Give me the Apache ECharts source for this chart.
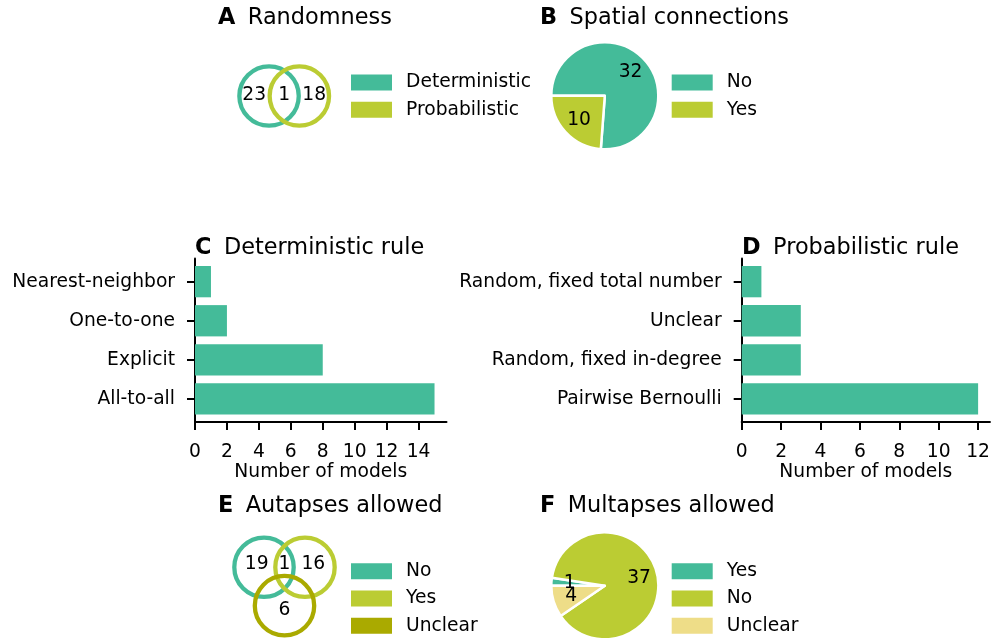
<!DOCTYPE html>
<html>
<head>
<meta charset="utf-8">
<script src="https://cdn.jsdelivr.net/npm/echarts@6/dist/echarts.min.js"></script>
<style>
html,body{margin:0;padding:0;background:#fff;}
#chart{width:993px;height:638px;}
</style>
</head>
<body>
<div id="chart"></div>
<script>
// ---------------- data ----------------
const randomnessSets = ['Deterministic', 'Probabilistic'];
const randomnessCounts = [23, 1, 18];            // only Det., both, only Prob.
const spatialNames = ['No', 'Yes'];
const spatialCounts = [32, 10];
const detRules = ['All-to-all', 'Explicit', 'One-to-one', 'Nearest-neighbor'];   // bottom -> top
const detCounts = [15, 8, 2, 1];
const probRules = ['Pairwise Bernoulli', 'Random, fixed in-degree', 'Unclear', 'Random, fixed total number'];
const probCounts = [12, 3, 3, 1];
const detTicks = [0, 2, 4, 6, 8, 10, 12, 14];
const probTicks = [0, 2, 4, 6, 8, 10, 12];
const autapseSets = ['No', 'Yes', 'Unclear'];
const autapseCounts = [19, 1, 16, 6];            // only No, No&Yes, only Yes, only Unclear
const multapseNames = ['Yes', 'No', 'Unclear'];
const multapseCounts = [1, 37, 4];

// ---------------- styling / layout ----------------
const TEAL = '#44BB99', PEAR = '#BBCC33', OLIVE = '#AAAA00', LYEL = '#EEDD88';
const FONT = 'DejaVu Sans';
const FS = 18.7, TFS = 22.4;
// Venn layouts in circle-radius units (unweighted diagrams)
const venn2Layout = { circles: [[-0.51, 0], [0.51, 0]], labels: [[-1.01, 0.03], [0, 0.03], [1.01, 0.03]] };
const venn3Layout = { circles: [[-0.69, 0.44], [0.69, 0.44], [0, -0.885]], labels: [[-0.936, 0.53], [0, 0.53], [0.97, 0.53], [0, -1.04]] };
const R_PX = 29.7;
const PIE_R = 53.5;

const chart = echarts.init(document.getElementById('chart'), null, { renderer: 'canvas' });

function mkTitle(letter, text, left, top) {
  return {
    text: '{b|' + letter + '}{n|' + text + '}',
    left: left, top: top, padding: 0,
    textStyle: {
      rich: {
        b: { fontFamily: FONT, fontSize: TFS, fontWeight: 'bold', color: '#000', padding: [0, 12.5, 0, 0], lineHeight: TFS },
        n: { fontFamily: FONT, fontSize: TFS, fontWeight: 'normal', color: '#000', lineHeight: TFS }
      }
    }
  };
}
function mkLegend(names, colors, left, top) {
  return {
    orient: 'vertical', left: left, top: top, height: 150, padding: 0,
    itemWidth: 41, itemHeight: 16, itemGap: 8.3, icon: 'rect',
    selectedMode: false,
    textStyle: { fontFamily: FONT, fontSize: FS, color: '#000', lineHeight: 16, padding: [0, 0, 0, 9] },
    data: names.map((n, i) => ({ name: n, itemStyle: { color: colors[i], borderWidth: 0, opacity: 1 } }))
  };
}
function vennGrid(cx, cy) {
  return { left: cx - 2 * R_PX, top: cy - 2 * R_PX, width: 4 * R_PX, height: 4 * R_PX, containLabel: false };
}
function hiddenAxis(gi) {
  return { type: 'value', min: -2, max: 2, show: false, gridIndex: gi };
}
function barGrid(left, width) {
  return { left: left, top: 258.6, width: width, height: 163.4, containLabel: false };
}
function valueXAxis(gi, max, ticks) {
  return {
    type: 'value', gridIndex: gi, min: 0, max: max,
    name: 'Number of models', nameLocation: 'middle', nameGap: 32.5,
    nameTextStyle: { fontFamily: FONT, fontSize: FS, color: '#000' },
    axisLine: { show: true, onZero: false, lineStyle: { color: '#000', width: 2 } },
    axisTick: { show: true, length: 8, lineStyle: { color: '#000', width: 2 }, customValues: ticks },
    axisLabel: { fontFamily: FONT, fontSize: FS, color: '#000', margin: 21, customValues: ticks },
    splitLine: { show: false }
  };
}
function catYAxis(gi, cats) {
  const idx = cats.map((c, i) => i);
  return {
    type: 'value', gridIndex: gi, min: -0.59, max: cats.length - 1 + 0.59,
    axisLine: { show: true, onZero: false, lineStyle: { color: '#000', width: 2 } },
    axisTick: { show: true, length: 8, lineStyle: { color: '#000', width: 2 }, customValues: idx },
    axisLabel: { fontFamily: FONT, fontSize: FS, color: '#000', margin: 20, customValues: idx,
      formatter: v => cats[Math.round(v)] },
    splitLine: { show: false }
  };
}
function barRender(params, api) {
  const v = api.value(0), i = api.value(1);
  const a = api.coord([0, i + 0.4]);
  const b = api.coord([v, i - 0.4]);
  return { type: 'rect', shape: { x: a[0], y: a[1], width: b[0] - a[0], height: b[1] - a[1] }, style: { fill: TEAL } };
}
function vennCircles(gi, names, colors, layout) {
  return names.map((n, i) => ({
    type: 'scatter', name: n, xAxisIndex: gi, yAxisIndex: gi, silent: true, z: 2 + i,
    symbol: 'circle', symbolSize: 2 * R_PX,
    itemStyle: { color: 'rgba(0,0,0,0)', borderColor: colors[i], borderWidth: 4.3, opacity: 1 },
    data: [layout.circles[i]]
  }));
}
function vennLabels(gi, counts, layout) {
  return {
    type: 'custom', name: 'venn-labels-' + gi, xAxisIndex: gi, yAxisIndex: gi, silent: true, z: 10,
    encode: { x: 0, y: 1 },
    data: counts.map((c, i) => [layout.labels[i][0], layout.labels[i][1], c]),
    renderItem: (params, api) => {
      const p = api.coord([api.value(0), api.value(1)]);
      return { type: 'text', x: p[0], y: p[1], z2: 10,
        style: { text: String(api.value(2)), fill: '#000', fontSize: FS, fontFamily: FONT,
          align: 'center', verticalAlign: 'middle' } };
    }
  };
}
function pieSeries(name, names, counts, colors, center) {
  return {
    type: 'pie', name: name, center: center, radius: [0, PIE_R], startAngle: 180, clockwise: true,
    silent: true, label: { show: false }, labelLine: { show: false },
    itemStyle: { borderColor: '#fff', borderWidth: 2.5 },
    emphasis: { disabled: true },
    data: names.map((n, i) => ({ name: n, value: counts[i], itemStyle: { color: colors[i] } }))
  };
}
function pieLabelSeries(name, names, counts, center) {
  // labels at 0.6 of the pie radius: inside-label of a transparent pie 1.2x larger
  return {
    type: 'pie', name: name, center: center, radius: [0, PIE_R * 1.2], startAngle: 180, clockwise: true,
    silent: true, z: 5, avoidLabelOverlap: false, minShowLabelAngle: 0,
    itemStyle: { color: 'rgba(0,0,0,0)', borderWidth: 0 },
    label: { show: true, position: 'inside', fontFamily: FONT, fontSize: FS, color: '#000',
      textBorderWidth: 0, formatter: p => String(p.value) },
    labelLine: { show: false },
    labelLayout: { hideOverlap: false },
    emphasis: { disabled: true },
    data: names.map((n, i) => ({ name: n, value: counts[i] }))
  };
}

const option = {
  backgroundColor: '#fff',
  animation: false,
  title: [
    mkTitle('A', 'Randomness', 218, 6.7),
    mkTitle('B', 'Spatial connections', 540, 6.7),
    mkTitle('C', 'Deterministic rule', 195, 236.7),
    mkTitle('D', 'Probabilistic rule', 742, 236.7),
    mkTitle('E', 'Autapses allowed', 218, 495),
    mkTitle('F', 'Multapses allowed', 540, 495)
  ],
  legend: [
    mkLegend(randomnessSets, [TEAL, PEAR], 351, 73),
    mkLegend(spatialNames, [TEAL, PEAR], 671.7, 73),
    mkLegend(autapseSets, [TEAL, PEAR, OLIVE], 351, 561.7),
    mkLegend(multapseNames, [TEAL, PEAR, LYEL], 671.7, 561.7)
  ],
  grid: [
    vennGrid(284.2, 96),
    barGrid(195, 251.5),
    barGrid(741.7, 250.1),
    vennGrid(284.5, 581.4)
  ],
  xAxis: [
    hiddenAxis(0),
    valueXAxis(1, 15.75, detTicks),
    valueXAxis(2, 12.6, probTicks),
    hiddenAxis(3)
  ],
  yAxis: [
    hiddenAxis(0),
    catYAxis(1, detRules),
    catYAxis(2, probRules),
    hiddenAxis(3)
  ],
  series: [
    ...vennCircles(0, randomnessSets, [TEAL, PEAR], venn2Layout),
    vennLabels(0, randomnessCounts, venn2Layout),
    pieSeries('spatial', spatialNames, spatialCounts, [TEAL, PEAR], [604.8, 95.8]),
    pieLabelSeries('spatial-labels', spatialNames, spatialCounts, [604.8, 95.8]),
    {
      type: 'custom', name: 'det', xAxisIndex: 1, yAxisIndex: 1, silent: true,
      renderItem: barRender, encode: { x: 0, y: 1 },
      data: detCounts.map((v, i) => [v, i])
    },
    {
      type: 'custom', name: 'prob', xAxisIndex: 2, yAxisIndex: 2, silent: true,
      renderItem: barRender, encode: { x: 0, y: 1 },
      data: probCounts.map((v, i) => [v, i])
    },
    ...vennCircles(3, autapseSets, [TEAL, PEAR, OLIVE], venn3Layout),
    vennLabels(3, autapseCounts, venn3Layout),
    pieSeries('multapse', multapseNames, multapseCounts, [TEAL, PEAR, LYEL], [604.8, 585.8]),
    pieLabelSeries('multapse-labels', multapseNames, multapseCounts, [604.8, 585.8])
  ]
};
chart.setOption(option);
</script>
</body>
</html>
